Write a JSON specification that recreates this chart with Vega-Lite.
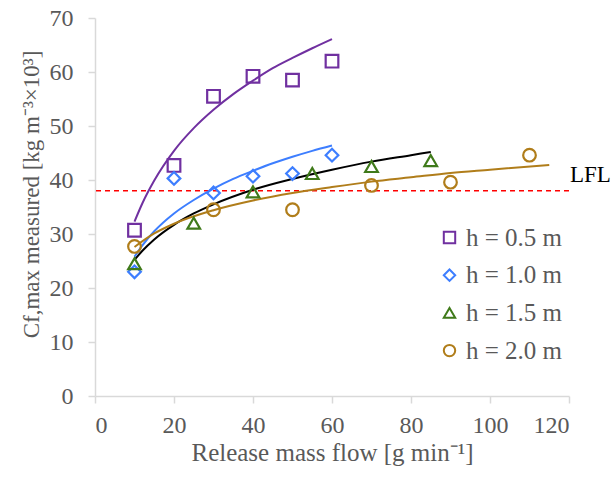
{
  "$schema": "https://vega.github.io/schema/vega-lite/v6.json",
  "width": 474,
  "height": 378,
  "autosize": {"type": "none"},
  "padding": {"left": 95, "top": 18, "right": 45, "bottom": 89},
  "background": "white",
  "config": {
    "view": {"stroke": null},
    "font": "Liberation Serif",
    "axis": {
      "grid": false,
      "domainColor": "#d9d9d9",
      "domainWidth": 1.5,
      "tickColor": "#d9d9d9",
      "tickWidth": 1.5,
      "tickSize": 7,
      "labelFontSize": 24,
      "labelColor": "#595959",
      "titleFontSize": 25,
      "titleFontWeight": "normal",
      "titleColor": "#595959"
    },
    "axisY": {"labelPadding": 15, "titlePadding": 6, "titleFontSize": 23},
    "axisX": {"labelPadding": 10, "titlePadding": 3}
  },
  "datasets": {
    "pts": [
      {"flow": 10, "c": 30.7, "series": "h = 0.5 m"},
      {"flow": 20, "c": 42.7, "series": "h = 0.5 m"},
      {"flow": 30, "c": 55.5, "series": "h = 0.5 m"},
      {"flow": 40, "c": 59.2, "series": "h = 0.5 m"},
      {"flow": 50, "c": 58.5, "series": "h = 0.5 m"},
      {"flow": 60, "c": 62.0, "series": "h = 0.5 m"},
      {"flow": 10, "c": 23.0, "series": "h = 1.0 m"},
      {"flow": 20, "c": 40.3, "series": "h = 1.0 m"},
      {"flow": 30, "c": 37.6, "series": "h = 1.0 m"},
      {"flow": 40, "c": 40.7, "series": "h = 1.0 m"},
      {"flow": 50, "c": 41.2, "series": "h = 1.0 m"},
      {"flow": 60, "c": 44.6, "series": "h = 1.0 m"},
      {"flow": 10, "c": 24.5, "series": "h = 1.5 m"},
      {"flow": 25, "c": 32.0, "series": "h = 1.5 m"},
      {"flow": 40, "c": 37.8, "series": "h = 1.5 m"},
      {"flow": 55, "c": 41.2, "series": "h = 1.5 m"},
      {"flow": 70, "c": 42.5, "series": "h = 1.5 m"},
      {"flow": 85, "c": 43.6, "series": "h = 1.5 m"},
      {"flow": 10, "c": 27.7, "series": "h = 2.0 m"},
      {"flow": 30, "c": 34.5, "series": "h = 2.0 m"},
      {"flow": 50, "c": 34.5, "series": "h = 2.0 m"},
      {"flow": 70, "c": 39.0, "series": "h = 2.0 m"},
      {"flow": 90, "c": 39.6, "series": "h = 2.0 m"},
      {"flow": 110, "c": 44.6, "series": "h = 2.0 m"}
    ],
    "fits": [
      {"flow": 10, "c": 32.3, "fit": "0.5"},
      {"flow": 12, "c": 35.7, "fit": "0.5"},
      {"flow": 15, "c": 39.9, "fit": "0.5"},
      {"flow": 20, "c": 45.4, "fit": "0.5"},
      {"flow": 25, "c": 49.6, "fit": "0.5"},
      {"flow": 30, "c": 53.0, "fit": "0.5"},
      {"flow": 35, "c": 55.9, "fit": "0.5"},
      {"flow": 40, "c": 58.4, "fit": "0.5"},
      {"flow": 45, "c": 60.7, "fit": "0.5"},
      {"flow": 50, "c": 62.6, "fit": "0.5"},
      {"flow": 55, "c": 64.4, "fit": "0.5"},
      {"flow": 60, "c": 66.1, "fit": "0.5"},
      {"flow": 10, "c": 25.8, "fit": "1.0"},
      {"flow": 12, "c": 27.9, "fit": "1.0"},
      {"flow": 15, "c": 30.5, "fit": "1.0"},
      {"flow": 20, "c": 33.8, "fit": "1.0"},
      {"flow": 25, "c": 36.3, "fit": "1.0"},
      {"flow": 30, "c": 38.4, "fit": "1.0"},
      {"flow": 35, "c": 40.2, "fit": "1.0"},
      {"flow": 40, "c": 41.7, "fit": "1.0"},
      {"flow": 45, "c": 43.1, "fit": "1.0"},
      {"flow": 50, "c": 44.3, "fit": "1.0"},
      {"flow": 55, "c": 45.4, "fit": "1.0"},
      {"flow": 60, "c": 46.4, "fit": "1.0"},
      {"flow": 10, "c": 25.2, "fit": "1.5"},
      {"flow": 12, "c": 26.9, "fit": "1.5"},
      {"flow": 15, "c": 29.0, "fit": "1.5"},
      {"flow": 20, "c": 31.7, "fit": "1.5"},
      {"flow": 25, "c": 33.8, "fit": "1.5"},
      {"flow": 30, "c": 35.5, "fit": "1.5"},
      {"flow": 40, "c": 38.2, "fit": "1.5"},
      {"flow": 50, "c": 40.2, "fit": "1.5"},
      {"flow": 60, "c": 41.9, "fit": "1.5"},
      {"flow": 70, "c": 43.4, "fit": "1.5"},
      {"flow": 80, "c": 44.6, "fit": "1.5"},
      {"flow": 85, "c": 45.2, "fit": "1.5"},
      {"flow": 10, "c": 27.6, "fit": "2.0"},
      {"flow": 15, "c": 30.1, "fit": "2.0"},
      {"flow": 20, "c": 31.9, "fit": "2.0"},
      {"flow": 30, "c": 34.4, "fit": "2.0"},
      {"flow": 40, "c": 36.2, "fit": "2.0"},
      {"flow": 50, "c": 37.6, "fit": "2.0"},
      {"flow": 60, "c": 38.7, "fit": "2.0"},
      {"flow": 70, "c": 39.7, "fit": "2.0"},
      {"flow": 80, "c": 40.5, "fit": "2.0"},
      {"flow": 90, "c": 41.3, "fit": "2.0"},
      {"flow": 100, "c": 41.9, "fit": "2.0"},
      {"flow": 115, "c": 42.8, "fit": "2.0"}
    ],
    "lfl": [{"c": 38, "flow": 120, "label": "LFL", "ly": 40.9}]
  },
  "encoding": {
    "x": {
      "field": "flow", "type": "quantitative",
      "scale": {"domain": [0, 120]},
      "axis": {
        "values": [0, 20, 40, 60, 80, 100, 120],
        "title": "Release mass flow [g min⁻¹]",
        "labelFont": "Liberation Serif", "titleFont": "Liberation Serif"
      }
    },
    "y": {
      "field": "c", "type": "quantitative",
      "scale": {"domain": [0, 70]},
      "axis": {
        "values": [0, 10, 20, 30, 40, 50, 60, 70],
        "title": "Cf,max measured [kg m⁻³×10³]",
        "titleY": 176,
        "labelFont": "Liberation Serif", "titleFont": "Liberation Serif",
        "encode": {"labels": {"update": {"dx": {"value": -6}}}}
      }
    }
  },
  "layer": [
    {
      "data": {"name": "lfl"},
      "mark": {"type": "rule", "color": "#ff0000", "strokeDash": [5, 4], "strokeWidth": 1.5},
      "encoding": {
        "x": null
      }
    },
    {
      "data": {"name": "fits"},
      "mark": {"type": "line", "strokeWidth": 2, "interpolate": "monotone"},
      "encoding": {
        "detail": {"field": "fit"},
        "stroke": {
          "field": "fit",
          "type": "nominal",
          "scale": {"domain": ["0.5", "1.0", "1.5", "2.0"], "range": ["#7030a0", "#3d7eff", "#000000", "#b07d1a"]},
          "legend": null
        }
      }
    },
    {
      "data": {"name": "pts"},
      "mark": {"type": "point", "filled": false, "strokeWidth": 2.2, "size": 160, "opacity": 1},
      "encoding": {
        "color": {
          "field": "series", "type": "nominal",
          "scale": {"domain": ["h = 0.5 m", "h = 1.0 m", "h = 1.5 m", "h = 2.0 m"], "range": ["#7030a0", "#3d7eff", "#3f7a1a", "#b07d1a"]},
          "legend": {
            "title": null,
            "orient": "none",
            "legendX": 342,
            "legendY": 207,
            "labelFont": "Liberation Serif",
            "labelFontSize": 25,
            "labelColor": "#595959",
            "symbolSize": 130,
            "symbolStrokeWidth": 2,
            "rowPadding": 11.7,
            "labelOffset": 4
          }
        },
        "shape": {
          "field": "series", "type": "nominal",
          "scale": {"domain": ["h = 0.5 m", "h = 1.0 m", "h = 1.5 m", "h = 2.0 m"], "range": ["square", "diamond", "triangle-up", "circle"]},
          "legend": {
            "title": null,
            "orient": "none",
            "legendX": 342,
            "legendY": 207,
            "labelFont": "Liberation Serif",
            "labelFontSize": 25,
            "labelColor": "#595959",
            "symbolSize": 130,
            "symbolStrokeWidth": 2,
            "rowPadding": 11.7,
            "labelOffset": 4
          }
        }
      }
    },
    {
      "data": {"name": "lfl"},
      "mark": {"type": "text", "align": "left", "baseline": "middle", "fontSize": 23, "font": "Liberation Serif", "color": "#000000", "dx": 1},
      "encoding": {
        "y": {"field": "ly", "type": "quantitative"},
        "text": {"field": "label"}
      }
    }
  ]
}
